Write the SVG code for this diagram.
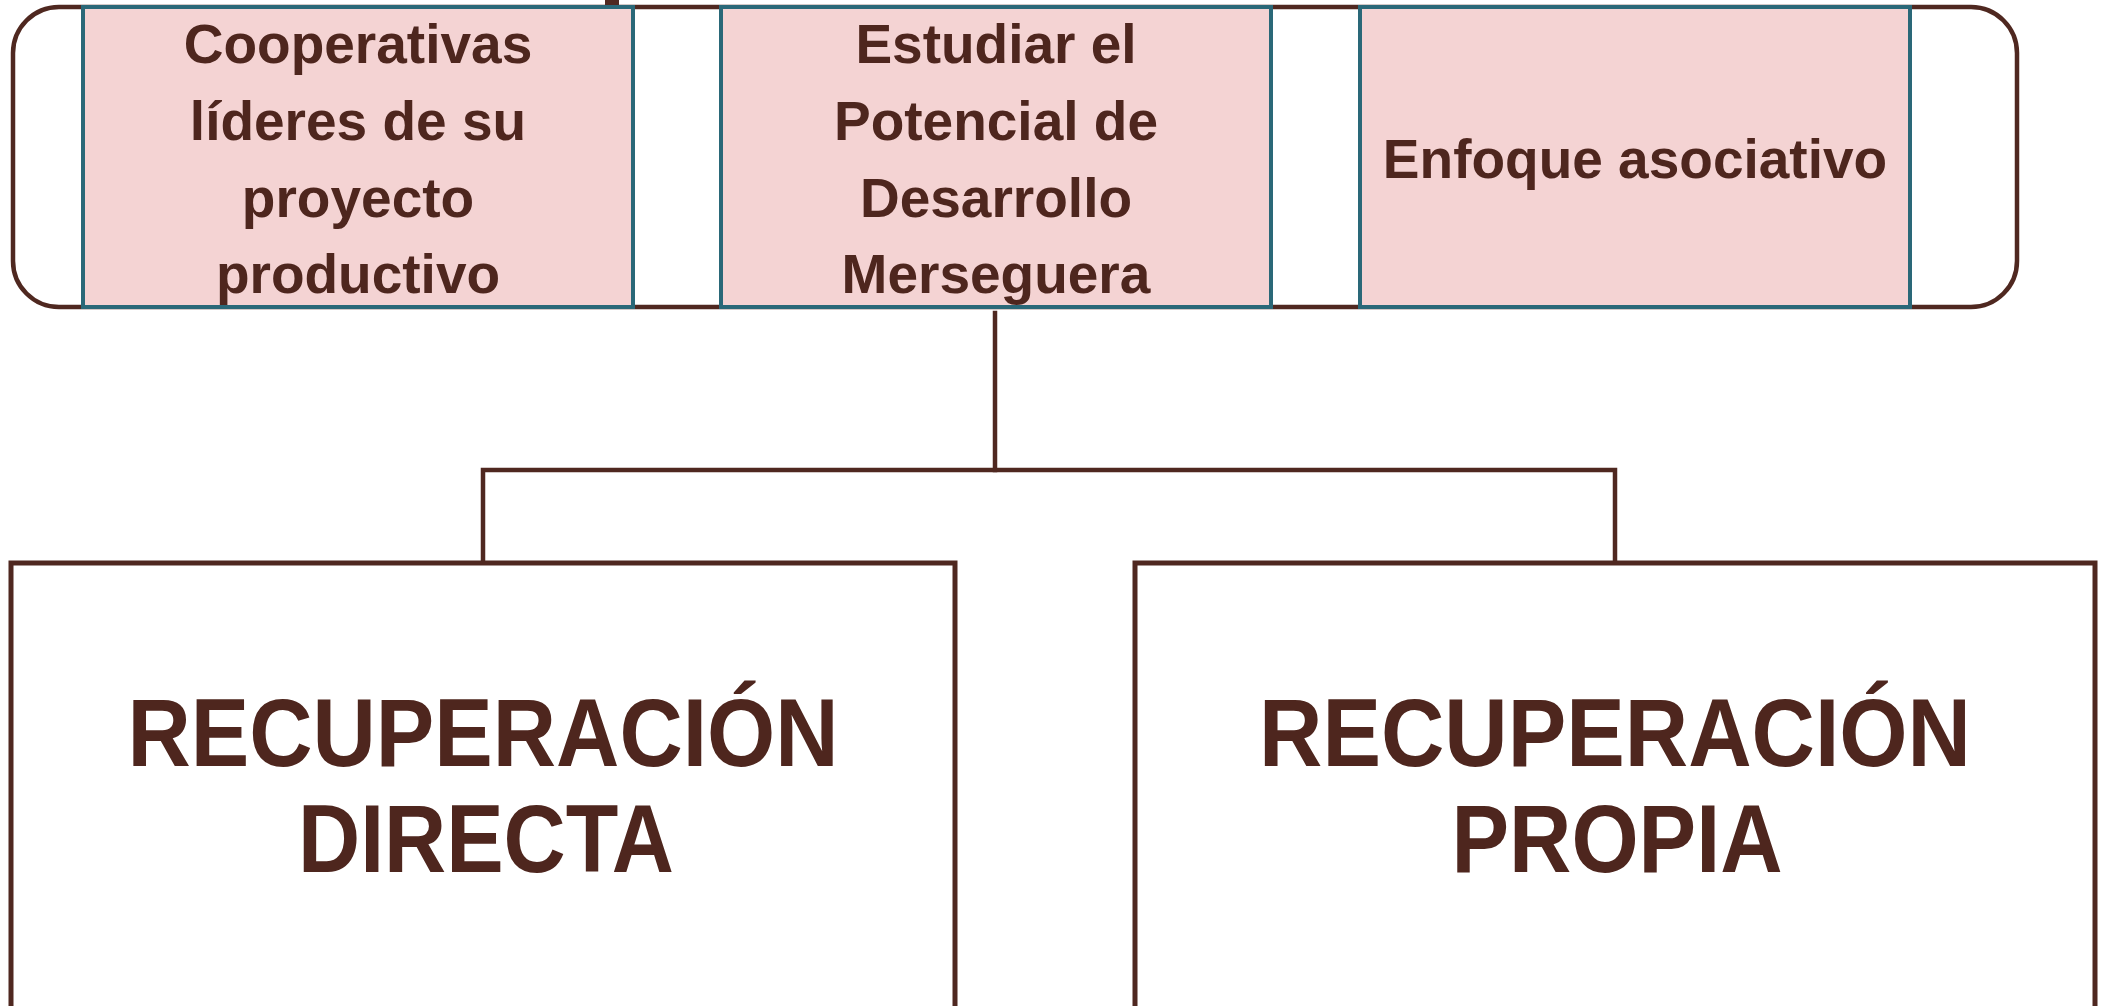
<svg xmlns="http://www.w3.org/2000/svg" width="2108" height="1006" viewBox="0 0 2108 1006">
<style>
.outer{fill:#ffffff;stroke:#4f2820;stroke-width:4.5}
.tbox{fill:#f4d3d3;stroke:#2a6878;stroke-width:4}
.bbox{fill:#ffffff;stroke:#4f2820;stroke-width:5}
.conn{fill:none;stroke:#4f2820;stroke-width:4.5;stroke-linecap:square}
.tt{font-family:"Liberation Sans",Arial,sans-serif;font-weight:bold;font-size:55px;fill:#4e261e;text-anchor:middle}
.bt{font-family:"Liberation Sans",Arial,sans-serif;font-weight:bold;font-size:96px;fill:#4e261e;text-anchor:middle}
</style>
<rect x="0" y="0" width="2108" height="1006" fill="#ffffff"/>
<rect x="605" y="0" width="14" height="7" fill="#4f2820"/>
<g id="container">
<rect class="outer" x="13" y="7" width="2004" height="300" rx="46" ry="46"/>
</g>
<g id="node-cooperativas">
<rect class="tbox" x="83" y="7" width="550" height="300"/>
<text class="tt" x="358" y="63">Cooperativas</text>
<text class="tt" x="358" y="140">líderes de su</text>
<text class="tt" x="358" y="217">proyecto</text>
<text class="tt" x="358" y="293">productivo</text>
</g>
<g id="node-estudiar">
<rect class="tbox" x="721" y="7" width="550" height="300"/>
<text class="tt" x="996" y="63">Estudiar el</text>
<text class="tt" x="996" y="140">Potencial de</text>
<text class="tt" x="996" y="217">Desarrollo</text>
<text class="tt" x="996" y="293">Merseguera</text>
</g>
<g id="node-enfoque">
<rect class="tbox" x="1360" y="7" width="550" height="300"/>
<text class="tt" x="1635" y="178">Enfoque asociativo</text>
</g>
<g id="connectors">
<path class="conn" d="M995 313 V470"/>
<path class="conn" d="M483 563 V470 H1615 V563"/>
</g>
<g id="node-directa">
<rect class="bbox" x="11" y="563" width="944" height="470"/>
<text class="bt" x="483" y="766" textLength="711" lengthAdjust="spacingAndGlyphs">RECUPERACIÓN</text>
<text class="bt" x="486" y="872" textLength="376" lengthAdjust="spacingAndGlyphs">DIRECTA</text>
</g>
<g id="node-propia">
<rect class="bbox" x="1135" y="563" width="960" height="470"/>
<text class="bt" x="1615" y="766" textLength="712" lengthAdjust="spacingAndGlyphs">RECUPERACIÓN</text>
<text class="bt" x="1617" y="872" textLength="331" lengthAdjust="spacingAndGlyphs">PROPIA</text>
</g>
</svg>
